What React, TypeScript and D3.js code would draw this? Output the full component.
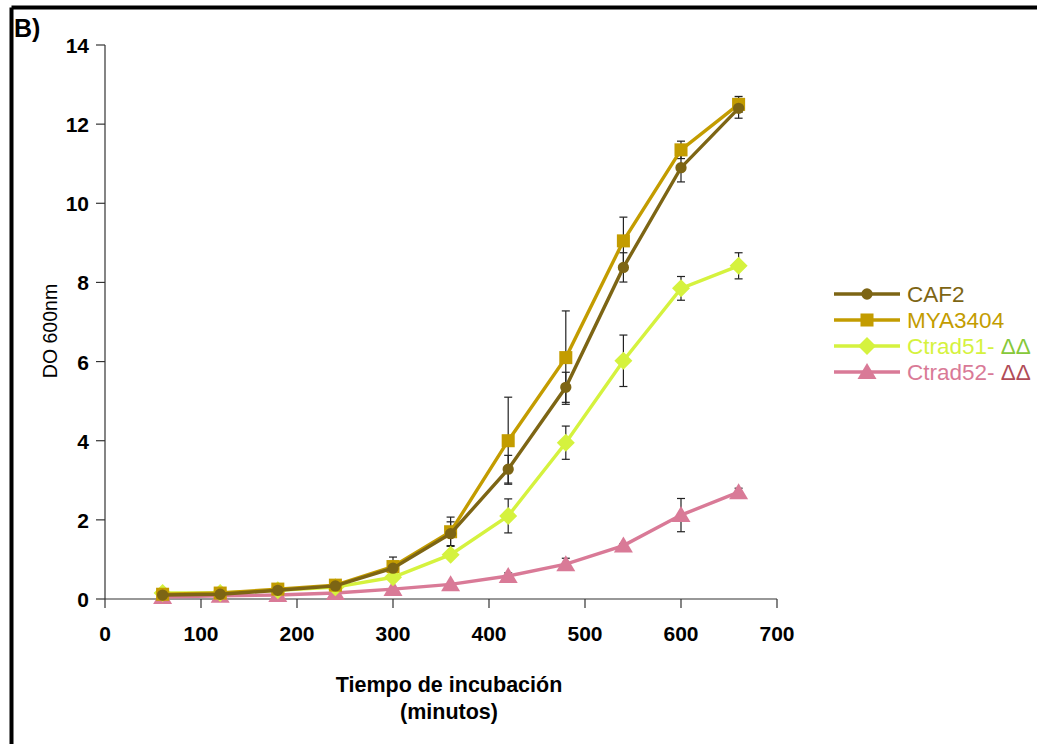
import React from 'react';
import * as d3 from 'd3';

const times = [60, 120, 180, 240, 300, 360, 420, 480, 540, 600, 660];
const caf2 = [0.1, 0.12, 0.22, 0.33, 0.78, 1.65, 3.28, 5.35, 8.38, 10.9, 12.4];
const caf2Err = [0, 0, 0, 0, 0.1, 0.3, 0.35, 0.38, 0.37, 0.36, 0.25];
const mya3404 = [0.12, 0.15, 0.25, 0.35, 0.82, 1.7, 4.0, 6.1, 9.05, 11.35, 12.5];
const myaErr = [0, 0, 0, 0.05, 0.24, 0.37, 1.1, 1.18, 0.6, 0.22, 0.2];
const ctrad51 = [0.15, 0.15, 0.22, 0.3, 0.55, 1.12, 2.1, 3.95, 6.02, 7.85, 8.42];
const ctrad51Err = [0, 0, 0, 0, 0, 0, 0.43, 0.42, 0.65, 0.3, 0.33];
const ctrad52 = [0.05, 0.08, 0.1, 0.15, 0.25, 0.37, 0.58, 0.88, 1.35, 2.12, 2.7];
const ctrad52Err = [0, 0, 0, 0, 0, 0, 0.08, 0.15, 0.05, 0.42, 0.1];

const xTicks = [0, 100, 200, 300, 400, 500, 600, 700];
const yTicks = [0, 2, 4, 6, 8, 10, 12, 14];

const series = [
  { name: 'CAF2', values: caf2, err: caf2Err, color: '#7d6514', marker: 'circle', delta: '', deltaColor: '' },
  { name: 'MYA3404', values: mya3404, err: myaErr, color: '#c39c00', marker: 'square', delta: '', deltaColor: '' },
  { name: 'Ctrad51- ', values: ctrad51, err: ctrad51Err, color: '#d5f23e', marker: 'diamond', delta: 'ΔΔ', deltaColor: '#86c83a' },
  { name: 'Ctrad52- ', values: ctrad52, err: ctrad52Err, color: '#d97a97', marker: 'triangle', delta: 'ΔΔ', deltaColor: '#b04c58' },
];

const font = 'Arial, "Liberation Sans", sans-serif';

// marker shapes (centered at 0,0)
const symbolFor = (m: string) => {
  if (m === 'circle') return d3.symbol(d3.symbolCircle, 100)();
  if (m === 'square') return d3.symbol(d3.symbolSquare, 170)();
  if (m === 'diamond') return 'M0,-9L9,0L0,9L-9,0Z';
  return 'M0,-9L9.5,7L-9.5,7Z';
};

export default function App() {
  const W = 1037;
  const H = 744;
  const x = d3.scaleLinear().domain([0, 700]).range([105, 777]);
  const y = d3.scaleLinear().domain([0, 14]).range([599, 45]);
  const line = d3
    .line<number>()
    .x((_, i) => x(times[i]))
    .y((d) => y(d));

  return (
    <svg width={W} height={H} style={{ position: 'absolute', left: 0, top: 0, background: '#fff' }}>
      {/* frame */}
      <line x1={11.5} y1={7.5} x2={W} y2={7.5} stroke="#000" strokeWidth={4} />
      <line x1={11.5} y1={7.5} x2={11.5} y2={H} stroke="#000" strokeWidth={4} />
      <text x={14} y={37} fontFamily={font} fontWeight="bold" fontSize={25}>B)</text>

      {/* axes */}
      <g stroke="#333" strokeWidth={1.2} fill="none">
        <line x1={x(0)} y1={y(0)} x2={x(700)} y2={y(0)} />
        <line x1={x(0)} y1={y(0)} x2={x(0)} y2={y(14)} />
        {xTicks.map((t) => (
          <line key={'xt' + t} x1={x(t)} x2={x(t)} y1={y(0)} y2={y(0) + 9} />
        ))}
        {yTicks.map((t) => (
          <line key={'yt' + t} x1={x(0) - 9} x2={x(0)} y1={y(t)} y2={y(t)} />
        ))}
      </g>
      {xTicks.map((t) => (
        <text key={'xl' + t} x={x(t)} y={641} textAnchor="middle" fontFamily={font} fontWeight="bold" fontSize={21}>
          {t}
        </text>
      ))}
      {yTicks.map((t) => (
        <text key={'yl' + t} x={89} y={y(t) + 8} textAnchor="end" fontFamily={font} fontWeight="bold" fontSize={21}>
          {t}
        </text>
      ))}
      <text transform={`translate(57,331) rotate(-90)`} textAnchor="middle" fontFamily={font} fontSize={19.5}>
        DO 600nm
      </text>
      <text x={449} y={692} textAnchor="middle" fontFamily={font} fontWeight="bold" fontSize={21.5}>
        Tiempo de incubación
      </text>
      <text x={449} y={719} textAnchor="middle" fontFamily={font} fontWeight="bold" fontSize={21.5}>
        (minutos)
      </text>

      {/* error bars */}
      <g stroke="#222" strokeWidth={1.2}>
        {series.map((s) =>
          s.values.map((v, i) =>
            s.err[i] > 0 ? (
              <g key={s.name + 'e' + i}>
                <line x1={x(times[i])} x2={x(times[i])} y1={y(v - s.err[i])} y2={y(v + s.err[i])} />
                <line x1={x(times[i]) - 4} x2={x(times[i]) + 4} y1={y(v + s.err[i])} y2={y(v + s.err[i])} />
                <line x1={x(times[i]) - 4} x2={x(times[i]) + 4} y1={y(v - s.err[i])} y2={y(v - s.err[i])} />
              </g>
            ) : null
          )
        )}
      </g>

      {/* series */}
      {[...series].reverse().map((s) => (
        <g key={s.name}>
          <path d={line(s.values) || ''} fill="none" stroke={s.color} strokeWidth={3.4} />
          {s.values.map((v, i) => (
            <path key={i} d={symbolFor(s.marker) || ''} transform={`translate(${x(times[i])},${y(v)})`} fill={s.color} />
          ))}
        </g>
      ))}

      {/* legend */}
      {series.map((s, i) => {
        const ly = 294 + i * 26;
        return (
          <g key={'lg' + s.name}>
            <line x1={834} x2={900} y1={ly} y2={ly} stroke={s.color} strokeWidth={3.4} />
            <path d={symbolFor(s.marker) || ''} transform={`translate(867,${ly})`} fill={s.color} />
            <text x={907} y={ly + 8} fontFamily={font} fontSize={22.5} fill={s.color}>
              {s.name}
              {s.delta ? <tspan fill={s.deltaColor}>{s.delta}</tspan> : null}
            </text>
          </g>
        );
      })}
    </svg>
  );
}
